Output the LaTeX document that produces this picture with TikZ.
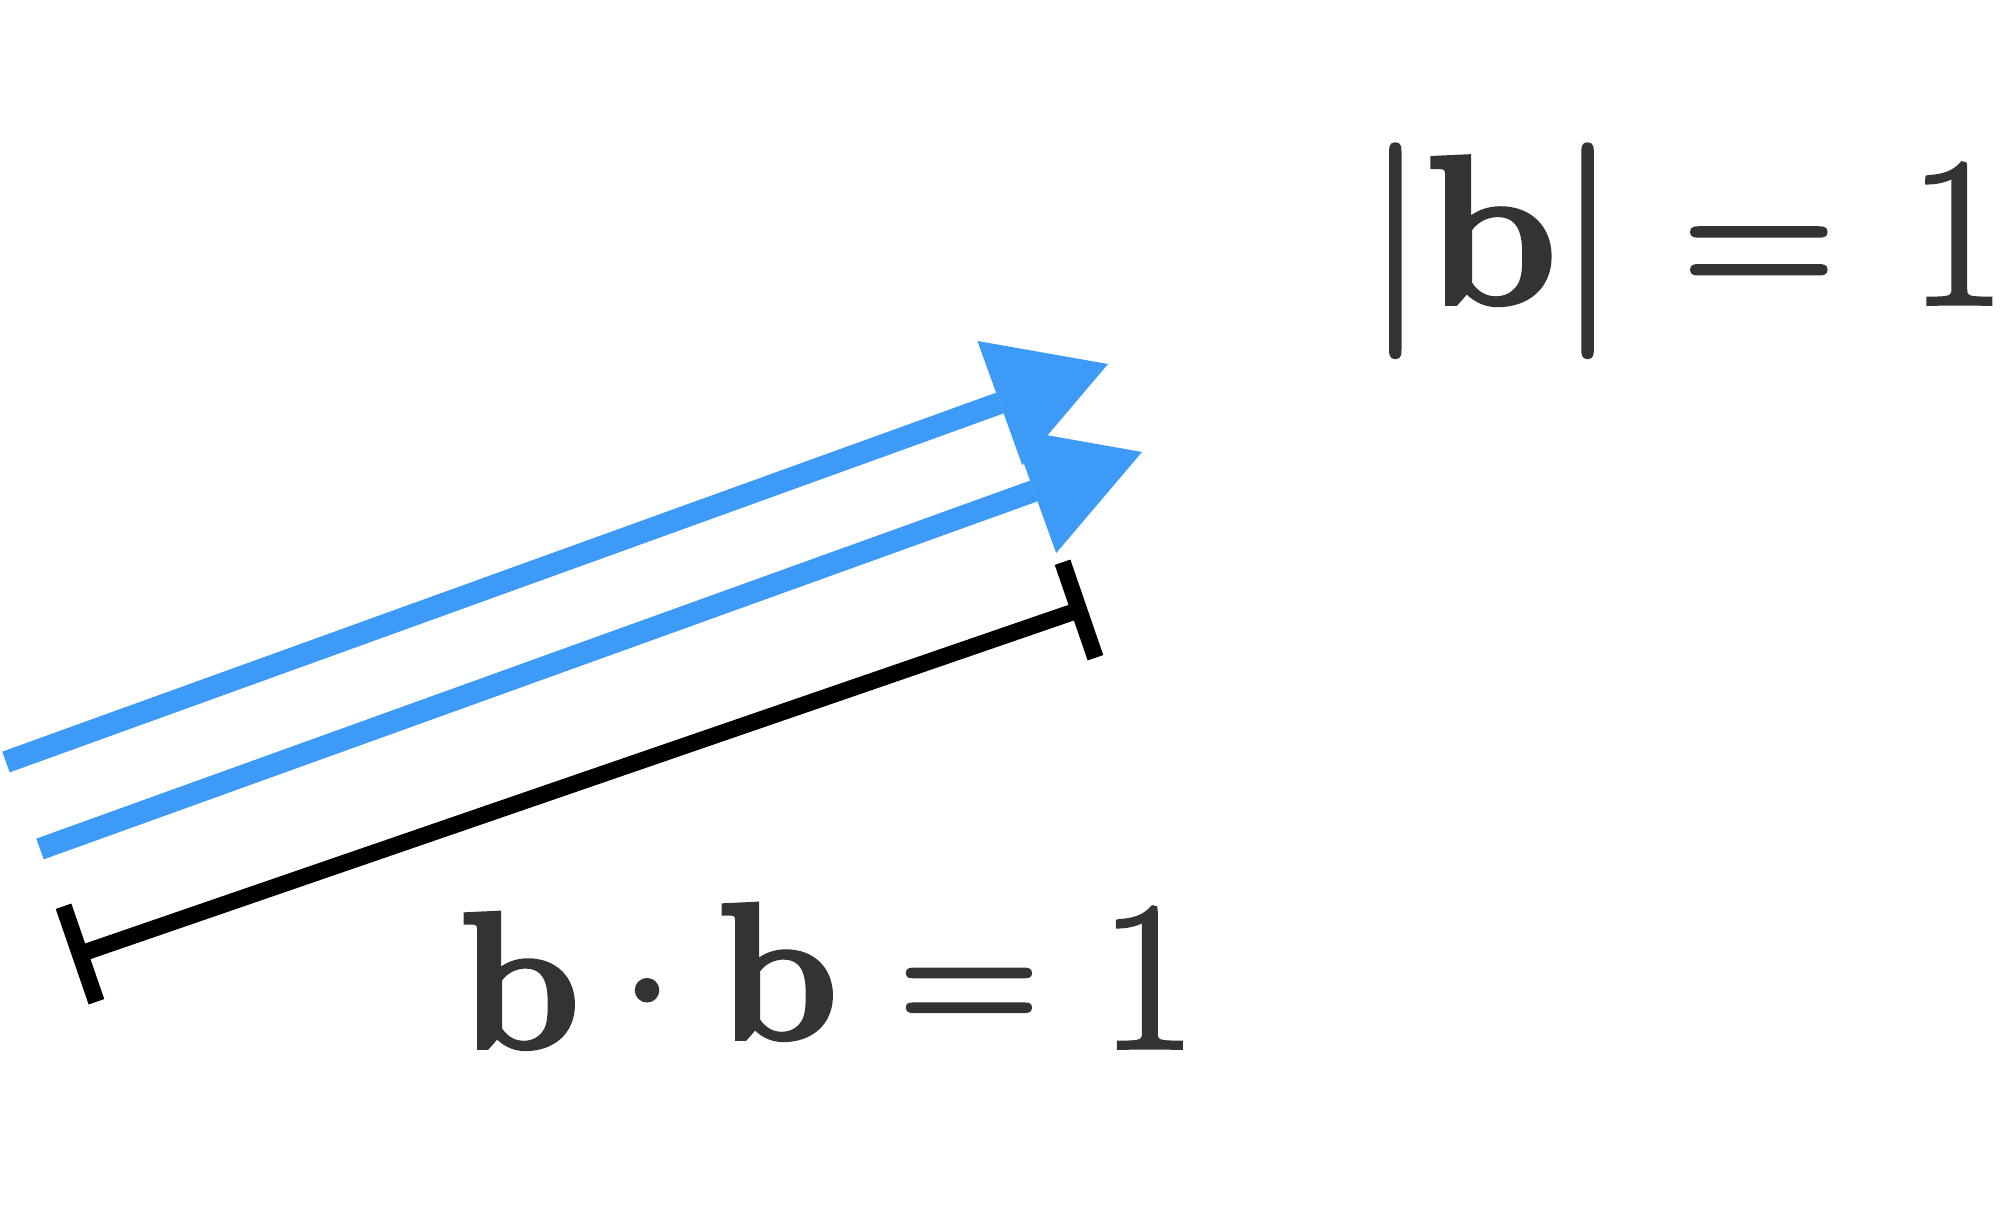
\RequirePackage{fix-cm}
\documentclass[tikz,border=0pt]{standalone}
\usetikzlibrary{arrows.meta,calc}
\definecolor{vblue}{RGB}{61,154,246}
\definecolor{txt}{RGB}{51,51,51}
\newcommand{\heavytext}[1]{\special{pdf:literal direct 2 Tr 1.1 w}#1\special{pdf:literal direct 0 Tr}}
\begin{document}
\begin{tikzpicture}[
  vecline/.style={draw=vblue, line width=0.22cm, -{Triangle[length=1.15cm,width=1.32cm,line width=0pt,fill=vblue]}},
  dimline/.style={draw=black, line width=0.165cm},
  bigmath/.style={inner sep=0pt, text=txt, font=\fontsize{60.6pt}{72pt}\selectfont},
  midmath/.style={inner sep=0pt, text=txt, font=\fontsize{55.5pt}{66pt}\selectfont},
]
\useasboundingbox (0,0) rectangle (20,12.17);
\coordinate (v1s) at (0.06,4.55);
\coordinate (v1e) at (11.08,8.53);
\coordinate (v2s) at (0.40,3.68);
\coordinate (v2e) at (11.42,7.65);
\coordinate (dA) at (0.80,2.63);
\coordinate (dB) at (10.79,6.07);
\draw[vecline] (v1s) -- (v1e);
\draw[vecline] (v2s) -- (v2e);
\draw[dimline] (dA) -- (dB);
\draw[dimline] ($(dA)!0.505cm!90:(dB)$) -- ($(dA)!0.505cm!-90:(dB)$);
\draw[dimline] ($(dB)!0.505cm!90:(dA)$) -- ($(dB)!0.505cm!-90:(dA)$);
% top formula
\node[bigmath, anchor=base west] (norm) at (13.65,9.13) {\heavytext{$|\mathbf{b}|\mkern0.5mu = \mkern1.2mu 1$}};
% bottom formula
\node[midmath, anchor=base west] (b1) at (4.58,1.69) {\heavytext{$\mathbf{b}$}};
\node[midmath, anchor=base] (dot) at (6.47,1.78) {\heavytext{$\cdot$}};
\node[midmath, anchor=base west] (b2) at (7.16,1.78) {\heavytext{$\mathbf{b}$}};
\node[midmath, anchor=base] (eq) at (9.69,1.78) {\heavytext{$=$}};
\node[bigmath, anchor=base] (one) at (11.48,1.69) {\heavytext{$1$}};
\end{tikzpicture}
\end{document}
